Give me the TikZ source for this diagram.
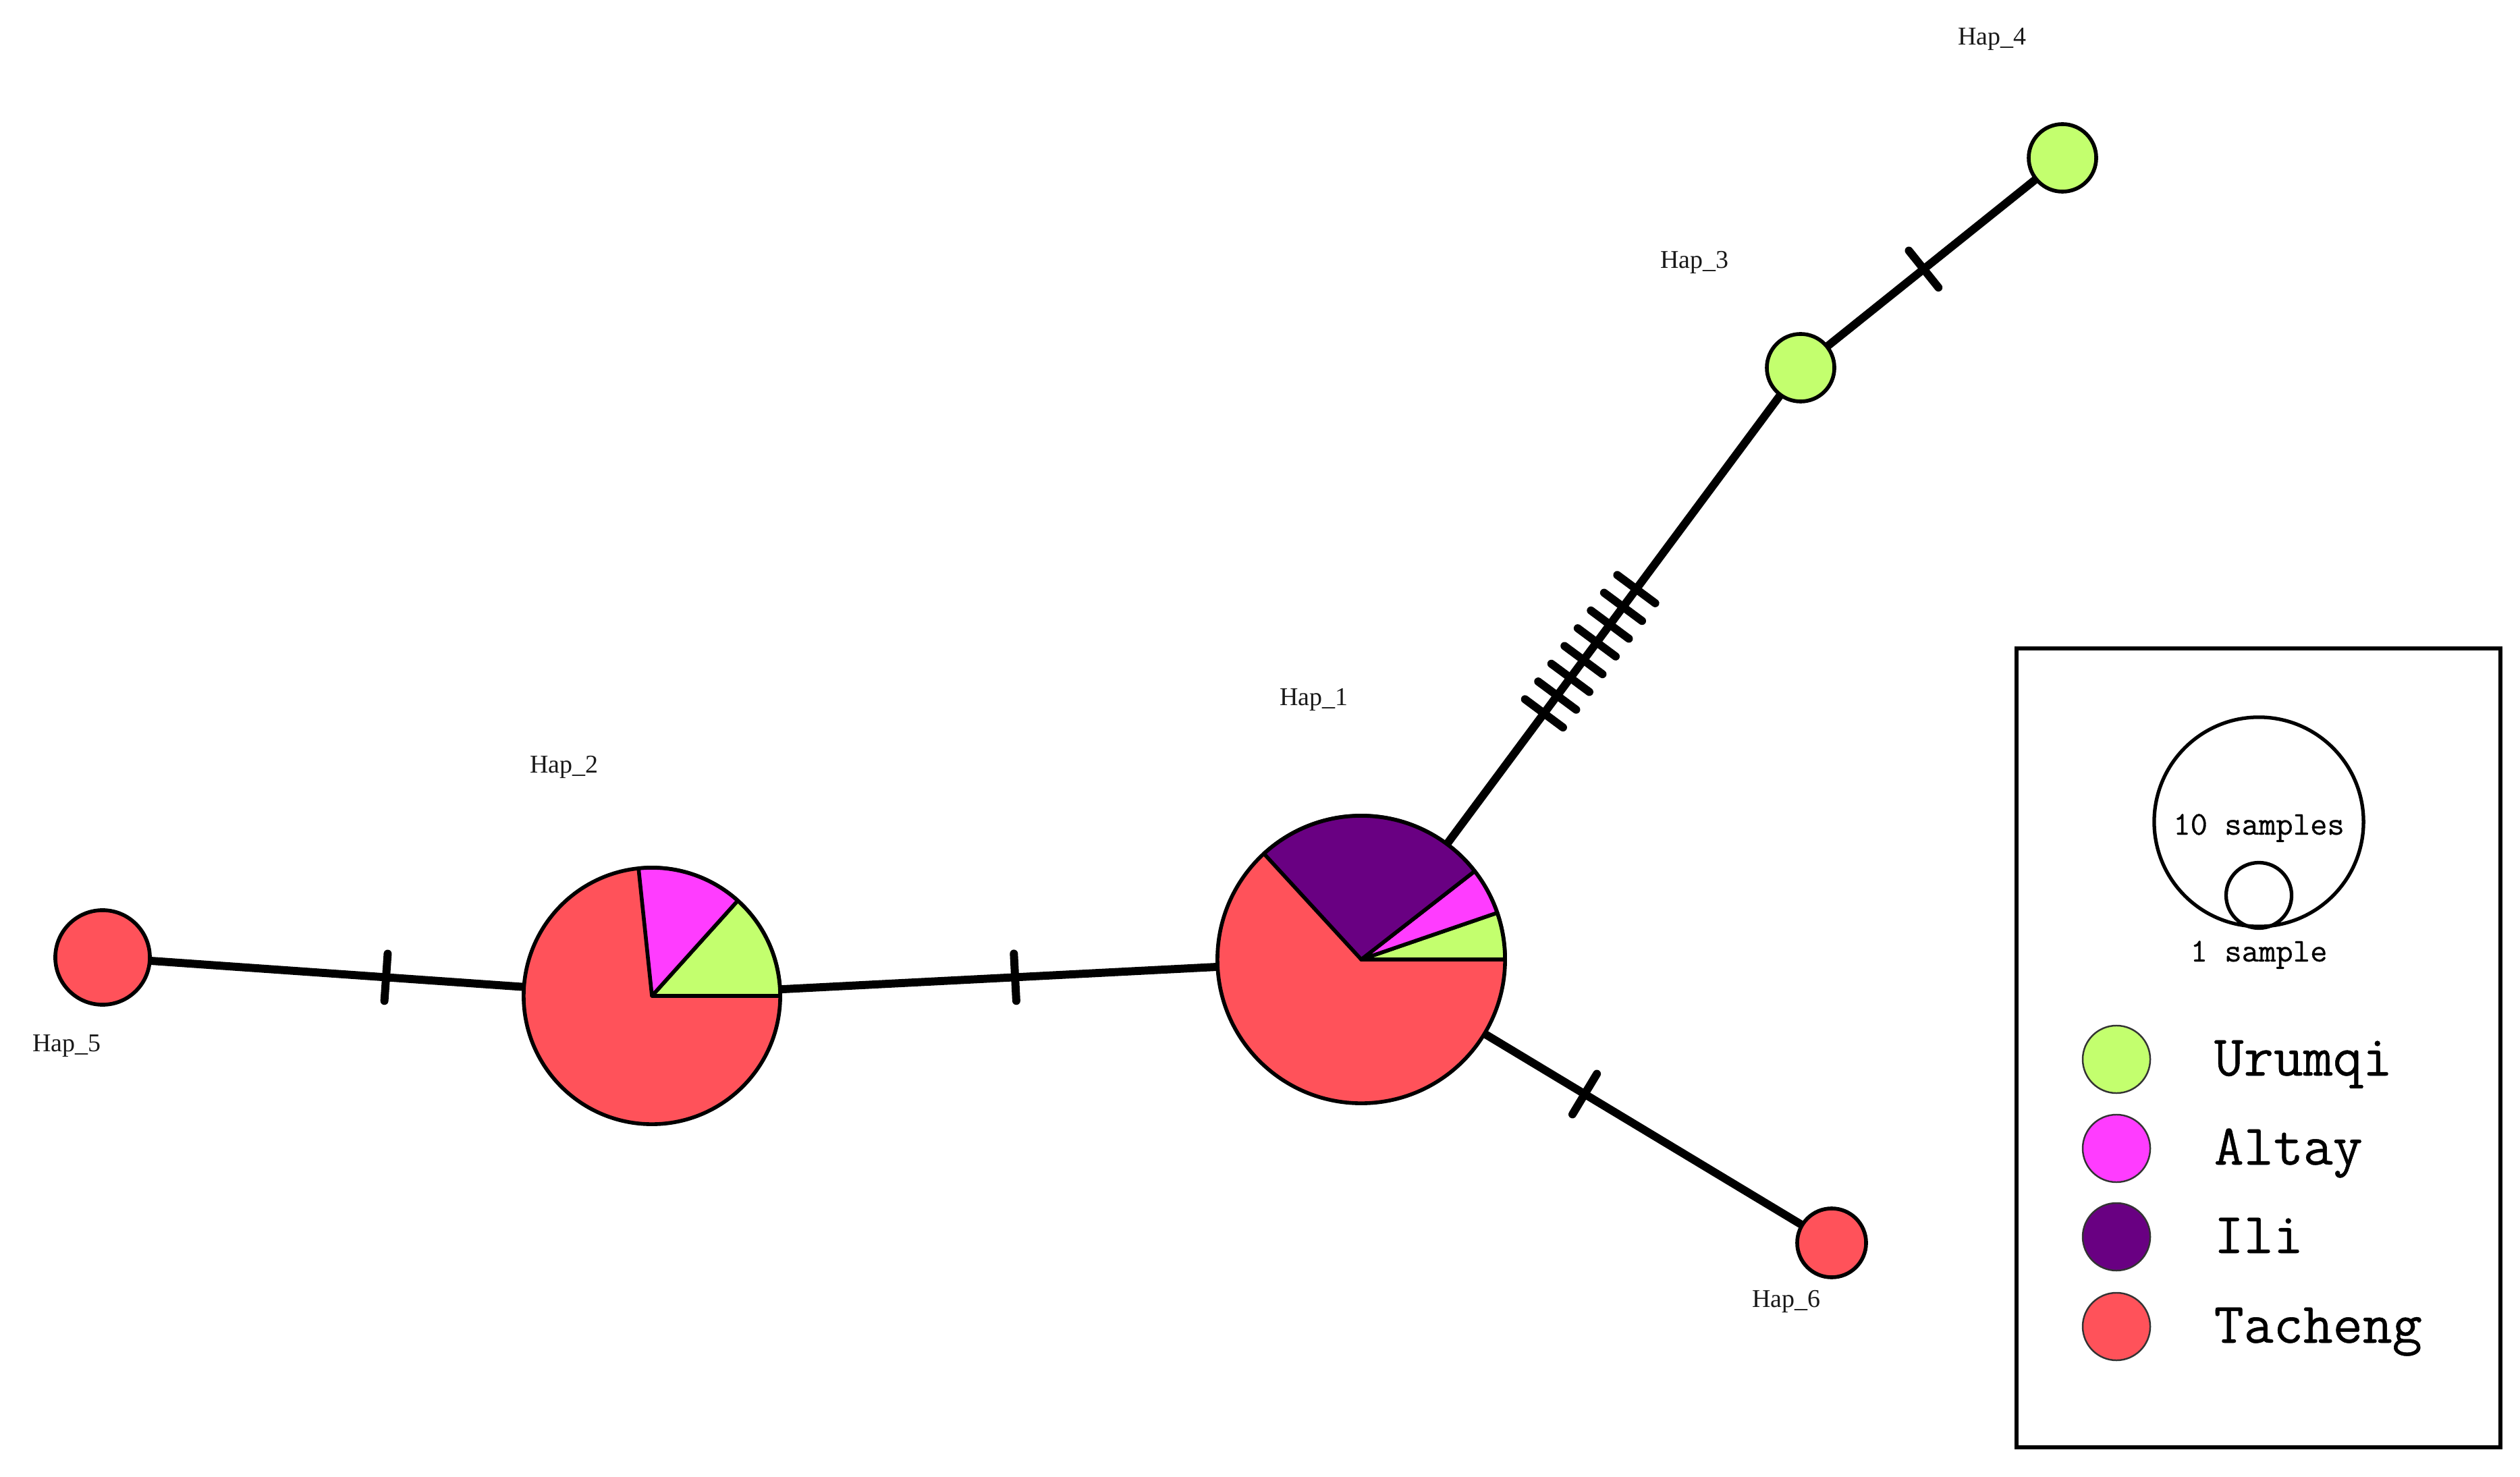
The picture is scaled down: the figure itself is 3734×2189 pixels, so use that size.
\documentclass[tikz,border=0pt]{standalone}
\usepackage{fontspec}
\setmainfont{Liberation Serif}
\newfontfamily\legfont[FakeBold=0.6]{Latin Modern Mono}
\usetikzlibrary{decorations.markings,backgrounds}
\definecolor{urumqi}{RGB}{195,255,110}
\definecolor{altay}{RGB}{255,60,255}
\definecolor{ili}{RGB}{105,0,130}
\definecolor{tacheng}{RGB}{255,82,90}
\tikzset{
  hap/.style={circle, draw=black, line width=1.6pt, inner sep=0pt, minimum size=#1},
  link/.style={line width=3.4pt, black},
  tickmark/.style={line width=3.4pt, line cap=round, black},
  mut/.style={postaction={decorate, decoration={markings,
      mark=at position #1 with {\draw[tickmark] (0pt,-0.35cm) -- (0pt,0.35cm);}}}},
  slice/.style={draw=black, line width=1.6pt, line join=round},
  haplabel/.style={font=\fontsize{10.8}{12}\selectfont, inner sep=0pt, anchor=base, text=black!90},
  legsmall/.style={font=\legfont\fontsize{14}{16}\selectfont, inner sep=0pt, anchor=base},
  legbig/.style={font=\legfont\fontsize{24.3}{28}\selectfont, inner sep=0pt, anchor=base west},
  legdot/.style={circle, draw=black!80, line width=0.7pt, inner sep=0pt, minimum size=1cm, fill=#1},
  scalering/.style={circle, draw=black, line width=1.5pt, inner sep=0pt, minimum size=#1}
}
\begin{document}
\begin{tikzpicture}[x=0.01cm,y=-0.01cm]
\useasboundingbox (0,0) rectangle (3734,2189);

% haplotype nodes
\node[hap=4.26cm, fill=tacheng] (h1) at (2017,1422) {};
\node[hap=3.8cm, fill=tacheng] (h2) at (966,1476) {};
\node[hap=1cm, fill=urumqi] (h3) at (2668,545) {};
\node[hap=1cm, fill=urumqi] (h4) at (3056,234) {};
\node[hap=1.4cm, fill=tacheng] (h5) at (152,1419) {};
\node[hap=1.02cm, fill=tacheng] (h6) at (2714,1842) {};

% pie slices of Hap_1
\filldraw[slice, fill=urumqi] (h1.center) -- ++(0:213) arc[start angle=0, end angle=-18.95, radius=213] -- cycle;
\filldraw[slice, fill=altay] (h1.center) -- ++(-18.95:213) arc[start angle=-18.95, end angle=-37.9, radius=213] -- cycle;
\filldraw[slice, fill=ili] (h1.center) -- ++(-37.9:213) arc[start angle=-37.9, end angle=-132.6, radius=213] -- cycle;

% pie slices of Hap_2
\filldraw[slice, fill=urumqi] (h2.center) -- ++(0:190) arc[start angle=0, end angle=-48, radius=190] -- cycle;
\filldraw[slice, fill=altay] (h2.center) -- ++(-48:190) arc[start angle=-48, end angle=-96, radius=190] -- cycle;

% connectors
\begin{pgfonlayer}{background}
\draw[link, mut=0.516] (h5.center) -- (h2.center);
\draw[link, mut=0.512] (h2.center) -- (h1.center);
\draw[link, mut=0.475] (h1.center) -- (h6.center);
\draw[link, mut=0.47] (h3.center) -- (h4.center);
\draw[link, mut=0.416, mut=0.446, mut=0.476, mut=0.506, mut=0.536, mut=0.566, mut=0.596, mut=0.626] (h1.center) -- (h3.center);
\end{pgfonlayer}

% labels
\node[haplabel] (l1) at (1947,1046) {Hap\_1};
\node[haplabel] (l2) at (836,1145) {Hap\_2};
\node[haplabel] (l3) at (2511,398) {Hap\_3};
\node[haplabel] (l4) at (2952,67) {Hap\_4};
\node[haplabel] (l5) at (99,1558) {Hap\_5};
\node[haplabel] (l6) at (2647,1937) {Hap\_6};

% legend
\draw[line width=1.7pt] (2988,961) rectangle (3705,2145);
\node[scalering=3.1cm] (ring10) at (3347,1218) {};
\node[scalering=0.97cm] (ring1) at (3347,1327) {};
\node[legsmall] (t10) at (3347,1237) {10 samples};
\node[legsmall] (t1) at (3347,1425) {1 sample};

\node[legdot=urumqi] (cu) at (3136,1570) {};
\node[legdot=altay] (ca) at (3136,1702) {};
\node[legdot=ili] (ci) at (3136,1833) {};
\node[legdot=tacheng] (ct) at (3136,1966) {};
\node[legbig] (tu) at (3280,1594) {Urumqi};
\node[legbig] (ta) at (3280,1726) {Altay};
\node[legbig] (ti) at (3280,1857) {Ili};
\node[legbig] (tt) at (3280,1990) {Tacheng};
\end{tikzpicture}
\end{document}
